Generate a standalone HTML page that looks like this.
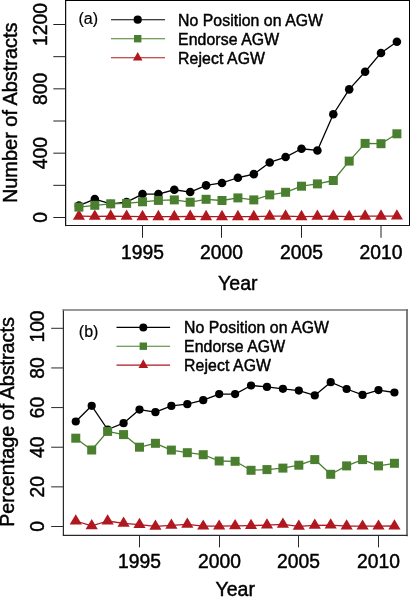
<!DOCTYPE html>
<html><head><meta charset="utf-8"><style>
html,body{margin:0;padding:0;background:#fff;}
body{width:410px;height:597px;overflow:hidden;font-family:"Liberation Sans", sans-serif;}
svg{display:block;will-change:transform;}
</style></head><body>
<svg width="410" height="597" viewBox="0 0 410 597" font-family='"Liberation Sans", sans-serif' fill="#000"><style>text{stroke:#000;stroke-width:0.45px;}</style>
<line x1="65.6" y1="0.5" x2="65.6" y2="225.5" stroke="#111" stroke-width="1.25" stroke-linecap="square"/>
<line x1="65.6" y1="0.5" x2="409.5" y2="0.5" stroke="#000" stroke-width="1.1" stroke-linecap="square"/>
<line x1="409.5" y1="0.5" x2="409.5" y2="225.5" stroke="#000" stroke-width="1.0" stroke-linecap="square"/>
<line x1="65.6" y1="225.5" x2="409.5" y2="225.5" stroke="#1a1a1a" stroke-width="1.1" stroke-linecap="square"/>
<line x1="142.5" y1="225.5" x2="142.5" y2="237.8" stroke="#222" stroke-width="1.0"/>
<text x="142.5" y="259.3" text-anchor="middle" font-size="19.3">1995</text>
<line x1="221.5" y1="225.5" x2="221.5" y2="237.8" stroke="#222" stroke-width="1.0"/>
<text x="221.5" y="259.3" text-anchor="middle" font-size="19.3">2000</text>
<line x1="301.5" y1="225.5" x2="301.5" y2="237.8" stroke="#222" stroke-width="1.0"/>
<text x="301.5" y="259.3" text-anchor="middle" font-size="19.3">2005</text>
<line x1="381.0" y1="225.5" x2="381.0" y2="237.8" stroke="#222" stroke-width="1.0"/>
<text x="381.0" y="259.3" text-anchor="middle" font-size="19.3">2010</text>
<line x1="53.3" y1="217.5" x2="65.6" y2="217.5" stroke="#222" stroke-width="1.0"/>
<text transform="translate(47.0,217.5) rotate(-90)" text-anchor="middle" font-size="19.3">0</text>
<line x1="53.3" y1="185.33" x2="65.6" y2="185.33" stroke="#222" stroke-width="1.0"/>
<line x1="53.3" y1="153.17" x2="65.6" y2="153.17" stroke="#222" stroke-width="1.0"/>
<text transform="translate(47.0,153.17) rotate(-90)" text-anchor="middle" font-size="19.3">400</text>
<line x1="53.3" y1="121.0" x2="65.6" y2="121.0" stroke="#222" stroke-width="1.0"/>
<line x1="53.3" y1="88.83" x2="65.6" y2="88.83" stroke="#222" stroke-width="1.0"/>
<text transform="translate(47.0,88.83) rotate(-90)" text-anchor="middle" font-size="19.3">800</text>
<line x1="53.3" y1="56.67" x2="65.6" y2="56.67" stroke="#222" stroke-width="1.0"/>
<line x1="53.3" y1="24.5" x2="65.6" y2="24.5" stroke="#222" stroke-width="1.0"/>
<text transform="translate(47.0,24.5) rotate(-90)" text-anchor="middle" font-size="19.3">1200</text>
<text x="237.8" y="289.6" text-anchor="middle" font-size="19.5">Year</text>
<text transform="translate(16.8,112.8) rotate(-90)" text-anchor="middle" font-size="19.95">Number of Abstracts</text>
<polyline points="78.90,205.65 94.80,199.05 110.70,203.95 126.60,202.05 142.50,194.05 158.40,194.05 174.30,189.75 190.20,192.05 206.10,185.35 222.00,182.95 237.90,177.75 253.80,174.15 269.70,162.45 285.60,157.05 301.50,148.75 317.40,150.45 333.30,114.25 349.20,89.35 365.10,71.75 381.00,52.95 396.90,41.75" fill="none" stroke="#000" stroke-width="1.3" stroke-linejoin="round"/>
<circle cx="78.90" cy="205.65" r="4.3" fill="#000"/>
<circle cx="94.80" cy="199.05" r="4.3" fill="#000"/>
<circle cx="110.70" cy="203.95" r="4.3" fill="#000"/>
<circle cx="126.60" cy="202.05" r="4.3" fill="#000"/>
<circle cx="142.50" cy="194.05" r="4.3" fill="#000"/>
<circle cx="158.40" cy="194.05" r="4.3" fill="#000"/>
<circle cx="174.30" cy="189.75" r="4.3" fill="#000"/>
<circle cx="190.20" cy="192.05" r="4.3" fill="#000"/>
<circle cx="206.10" cy="185.35" r="4.3" fill="#000"/>
<circle cx="222.00" cy="182.95" r="4.3" fill="#000"/>
<circle cx="237.90" cy="177.75" r="4.3" fill="#000"/>
<circle cx="253.80" cy="174.15" r="4.3" fill="#000"/>
<circle cx="269.70" cy="162.45" r="4.3" fill="#000"/>
<circle cx="285.60" cy="157.05" r="4.3" fill="#000"/>
<circle cx="301.50" cy="148.75" r="4.3" fill="#000"/>
<circle cx="317.40" cy="150.45" r="4.3" fill="#000"/>
<circle cx="333.30" cy="114.25" r="4.3" fill="#000"/>
<circle cx="349.20" cy="89.35" r="4.3" fill="#000"/>
<circle cx="365.10" cy="71.75" r="4.3" fill="#000"/>
<circle cx="381.00" cy="52.95" r="4.3" fill="#000"/>
<circle cx="396.90" cy="41.75" r="4.3" fill="#000"/>
<polyline points="78.90,216.20 94.80,216.40 110.70,216.20 126.60,216.40 142.50,216.70 158.40,216.70 174.30,216.70 190.20,216.50 206.10,216.70 222.00,216.70 237.90,216.70 253.80,216.70 269.70,216.20 285.60,216.20 301.50,216.70 317.40,216.40 333.30,216.20 349.20,216.70 365.10,216.20 381.00,216.20 396.90,216.10" fill="none" stroke="#b0171e" stroke-width="1.3" stroke-linejoin="round"/>
<polygon points="78.90,209.27 84.90,219.67 72.90,219.67" fill="#b0171e"/>
<polygon points="94.80,209.47 100.80,219.87 88.80,219.87" fill="#b0171e"/>
<polygon points="110.70,209.27 116.70,219.67 104.70,219.67" fill="#b0171e"/>
<polygon points="126.60,209.47 132.60,219.87 120.60,219.87" fill="#b0171e"/>
<polygon points="142.50,209.77 148.50,220.17 136.50,220.17" fill="#b0171e"/>
<polygon points="158.40,209.77 164.40,220.17 152.40,220.17" fill="#b0171e"/>
<polygon points="174.30,209.77 180.30,220.17 168.30,220.17" fill="#b0171e"/>
<polygon points="190.20,209.57 196.20,219.97 184.20,219.97" fill="#b0171e"/>
<polygon points="206.10,209.77 212.10,220.17 200.10,220.17" fill="#b0171e"/>
<polygon points="222.00,209.77 228.00,220.17 216.00,220.17" fill="#b0171e"/>
<polygon points="237.90,209.77 243.90,220.17 231.90,220.17" fill="#b0171e"/>
<polygon points="253.80,209.77 259.80,220.17 247.80,220.17" fill="#b0171e"/>
<polygon points="269.70,209.27 275.70,219.67 263.70,219.67" fill="#b0171e"/>
<polygon points="285.60,209.27 291.60,219.67 279.60,219.67" fill="#b0171e"/>
<polygon points="301.50,209.77 307.50,220.17 295.50,220.17" fill="#b0171e"/>
<polygon points="317.40,209.47 323.40,219.87 311.40,219.87" fill="#b0171e"/>
<polygon points="333.30,209.27 339.30,219.67 327.30,219.67" fill="#b0171e"/>
<polygon points="349.20,209.77 355.20,220.17 343.20,220.17" fill="#b0171e"/>
<polygon points="365.10,209.27 371.10,219.67 359.10,219.67" fill="#b0171e"/>
<polygon points="381.00,209.27 387.00,219.67 375.00,219.67" fill="#b0171e"/>
<polygon points="396.90,209.17 402.90,219.57 390.90,219.57" fill="#b0171e"/>
<polyline points="78.90,207.10 94.80,205.30 110.70,203.80 126.60,203.40 142.50,201.80 158.40,200.40 174.30,199.90 190.20,202.20 206.10,199.30 222.00,200.50 237.90,197.90 253.80,199.90 269.70,194.90 285.60,192.30 301.50,186.20 317.40,183.90 333.30,180.50 349.20,161.10 365.10,143.40 381.00,143.70 396.90,133.80" fill="none" stroke="#4a7f2f" stroke-width="1.3" stroke-linejoin="round"/>
<rect x="74.40" y="202.60" width="9.0" height="9.0" fill="#4a7f2f"/>
<rect x="90.30" y="200.80" width="9.0" height="9.0" fill="#4a7f2f"/>
<rect x="106.20" y="199.30" width="9.0" height="9.0" fill="#4a7f2f"/>
<rect x="122.10" y="198.90" width="9.0" height="9.0" fill="#4a7f2f"/>
<rect x="138.00" y="197.30" width="9.0" height="9.0" fill="#4a7f2f"/>
<rect x="153.90" y="195.90" width="9.0" height="9.0" fill="#4a7f2f"/>
<rect x="169.80" y="195.40" width="9.0" height="9.0" fill="#4a7f2f"/>
<rect x="185.70" y="197.70" width="9.0" height="9.0" fill="#4a7f2f"/>
<rect x="201.60" y="194.80" width="9.0" height="9.0" fill="#4a7f2f"/>
<rect x="217.50" y="196.00" width="9.0" height="9.0" fill="#4a7f2f"/>
<rect x="233.40" y="193.40" width="9.0" height="9.0" fill="#4a7f2f"/>
<rect x="249.30" y="195.40" width="9.0" height="9.0" fill="#4a7f2f"/>
<rect x="265.20" y="190.40" width="9.0" height="9.0" fill="#4a7f2f"/>
<rect x="281.10" y="187.80" width="9.0" height="9.0" fill="#4a7f2f"/>
<rect x="297.00" y="181.70" width="9.0" height="9.0" fill="#4a7f2f"/>
<rect x="312.90" y="179.40" width="9.0" height="9.0" fill="#4a7f2f"/>
<rect x="328.80" y="176.00" width="9.0" height="9.0" fill="#4a7f2f"/>
<rect x="344.70" y="156.60" width="9.0" height="9.0" fill="#4a7f2f"/>
<rect x="360.60" y="138.90" width="9.0" height="9.0" fill="#4a7f2f"/>
<rect x="376.50" y="139.20" width="9.0" height="9.0" fill="#4a7f2f"/>
<rect x="392.40" y="129.30" width="9.0" height="9.0" fill="#4a7f2f"/>
<text x="78.5" y="23.9" font-size="16" style="stroke-width:0.2px">(a)</text>
<line x1="111" y1="19.7" x2="165" y2="19.7" stroke="#000" stroke-width="1.1"/>
<circle cx="137.70" cy="19.70" r="4.1" fill="#000"/>
<text x="178.0" y="25.6" font-size="15.8" textLength="145.0" lengthAdjust="spacing">No Position on AGW</text>
<line x1="111" y1="38.7" x2="165" y2="38.7" stroke="#4a7f2f" stroke-width="1.1"/>
<rect x="134.00" y="35.00" width="7.4" height="7.4" fill="#4a7f2f"/>
<text x="178.0" y="44.6" font-size="15.8" textLength="101.1" lengthAdjust="spacing">Endorse AGW</text>
<line x1="111" y1="57.7" x2="165" y2="57.7" stroke="#b0171e" stroke-width="1.1"/>
<polygon points="137.70,51.97 142.50,60.57 132.90,60.57" fill="#b0171e"/>
<text x="178.0" y="63.5" font-size="15.8" textLength="87.0" lengthAdjust="spacing">Reject AGW</text>
<line x1="63.4" y1="310.0" x2="63.4" y2="535.4" stroke="#2a2a2a" stroke-width="1.2" stroke-linecap="square"/>
<line x1="63.4" y1="310.0" x2="407.0" y2="310.0" stroke="#777" stroke-width="1.6" stroke-linecap="square"/>
<line x1="407.0" y1="310.0" x2="407.0" y2="535.4" stroke="#666" stroke-width="1.7" stroke-linecap="square"/>
<line x1="63.4" y1="535.4" x2="407.0" y2="535.4" stroke="#2a2a2a" stroke-width="1.1" stroke-linecap="square"/>
<line x1="139.5" y1="535.2" x2="139.5" y2="547.4000000000001" stroke="#2a2a2a" stroke-width="1.0"/>
<text x="139.5" y="568.3" text-anchor="middle" font-size="19.3">1995</text>
<line x1="219.5" y1="535.2" x2="219.5" y2="547.4000000000001" stroke="#2a2a2a" stroke-width="1.0"/>
<text x="219.5" y="568.3" text-anchor="middle" font-size="19.3">2000</text>
<line x1="298.5" y1="535.2" x2="298.5" y2="547.4000000000001" stroke="#2a2a2a" stroke-width="1.0"/>
<text x="298.5" y="568.3" text-anchor="middle" font-size="19.3">2005</text>
<line x1="378.5" y1="535.2" x2="378.5" y2="547.4000000000001" stroke="#2a2a2a" stroke-width="1.0"/>
<text x="378.5" y="568.3" text-anchor="middle" font-size="19.3">2010</text>
<line x1="51.2" y1="526.5" x2="63.4" y2="526.5" stroke="#2a2a2a" stroke-width="1.0"/>
<text transform="translate(44.4,526.5) rotate(-90)" text-anchor="middle" font-size="19.3">0</text>
<line x1="51.2" y1="486.86" x2="63.4" y2="486.86" stroke="#2a2a2a" stroke-width="1.0"/>
<text transform="translate(44.4,486.86) rotate(-90)" text-anchor="middle" font-size="19.3">20</text>
<line x1="51.2" y1="447.22" x2="63.4" y2="447.22" stroke="#2a2a2a" stroke-width="1.0"/>
<text transform="translate(44.4,447.22) rotate(-90)" text-anchor="middle" font-size="19.3">40</text>
<line x1="51.2" y1="407.58" x2="63.4" y2="407.58" stroke="#2a2a2a" stroke-width="1.0"/>
<text transform="translate(44.4,407.58) rotate(-90)" text-anchor="middle" font-size="19.3">60</text>
<line x1="51.2" y1="367.94" x2="63.4" y2="367.94" stroke="#2a2a2a" stroke-width="1.0"/>
<text transform="translate(44.4,367.94) rotate(-90)" text-anchor="middle" font-size="19.3">80</text>
<line x1="51.2" y1="328.3" x2="63.4" y2="328.3" stroke="#2a2a2a" stroke-width="1.0"/>
<text transform="translate(44.4,326.5) rotate(-90)" text-anchor="middle" font-size="19.3">100</text>
<text x="235.2" y="596.0" text-anchor="middle" font-size="19.5">Year</text>
<text transform="translate(14.3,422.0) rotate(-90)" text-anchor="middle" font-size="19.75">Percentage of Abstracts</text>
<polyline points="75.77,421.50 91.70,405.80 107.63,429.50 123.57,423.20 139.50,409.60 155.43,412.20 171.37,405.90 187.30,404.20 203.23,400.20 219.17,394.10 235.10,394.10 251.03,385.50 266.97,386.90 282.90,388.80 298.83,390.60 314.77,395.40 330.70,382.20 346.63,389.00 362.57,394.90 378.50,390.10 394.43,392.50" fill="none" stroke="#000" stroke-width="1.3" stroke-linejoin="round"/>
<circle cx="75.77" cy="421.50" r="4.1" fill="#000"/>
<circle cx="91.70" cy="405.80" r="4.1" fill="#000"/>
<circle cx="107.63" cy="429.50" r="4.1" fill="#000"/>
<circle cx="123.57" cy="423.20" r="4.1" fill="#000"/>
<circle cx="139.50" cy="409.60" r="4.1" fill="#000"/>
<circle cx="155.43" cy="412.20" r="4.1" fill="#000"/>
<circle cx="171.37" cy="405.90" r="4.1" fill="#000"/>
<circle cx="187.30" cy="404.20" r="4.1" fill="#000"/>
<circle cx="203.23" cy="400.20" r="4.1" fill="#000"/>
<circle cx="219.17" cy="394.10" r="4.1" fill="#000"/>
<circle cx="235.10" cy="394.10" r="4.1" fill="#000"/>
<circle cx="251.03" cy="385.50" r="4.1" fill="#000"/>
<circle cx="266.97" cy="386.90" r="4.1" fill="#000"/>
<circle cx="282.90" cy="388.80" r="4.1" fill="#000"/>
<circle cx="298.83" cy="390.60" r="4.1" fill="#000"/>
<circle cx="314.77" cy="395.40" r="4.1" fill="#000"/>
<circle cx="330.70" cy="382.20" r="4.1" fill="#000"/>
<circle cx="346.63" cy="389.00" r="4.1" fill="#000"/>
<circle cx="362.57" cy="394.90" r="4.1" fill="#000"/>
<circle cx="378.50" cy="390.10" r="4.1" fill="#000"/>
<circle cx="394.43" cy="392.50" r="4.1" fill="#000"/>
<polyline points="75.77,521.00 91.70,525.80 107.63,521.00 123.57,523.30 139.50,524.60 155.43,526.30 171.37,525.30 187.30,524.40 203.23,526.20 219.17,526.20 235.10,525.80 251.03,525.60 266.97,525.10 282.90,524.40 298.83,526.30 314.77,525.30 330.70,525.10 346.63,526.10 362.57,526.20 378.50,526.20 394.43,526.00" fill="none" stroke="#b0171e" stroke-width="1.3" stroke-linejoin="round"/>
<polygon points="75.77,514.20 81.87,524.40 69.67,524.40" fill="#b0171e"/>
<polygon points="91.70,519.00 97.80,529.20 85.60,529.20" fill="#b0171e"/>
<polygon points="107.63,514.20 113.73,524.40 101.53,524.40" fill="#b0171e"/>
<polygon points="123.57,516.50 129.67,526.70 117.47,526.70" fill="#b0171e"/>
<polygon points="139.50,517.80 145.60,528.00 133.40,528.00" fill="#b0171e"/>
<polygon points="155.43,519.50 161.53,529.70 149.33,529.70" fill="#b0171e"/>
<polygon points="171.37,518.50 177.47,528.70 165.27,528.70" fill="#b0171e"/>
<polygon points="187.30,517.60 193.40,527.80 181.20,527.80" fill="#b0171e"/>
<polygon points="203.23,519.40 209.33,529.60 197.13,529.60" fill="#b0171e"/>
<polygon points="219.17,519.40 225.27,529.60 213.07,529.60" fill="#b0171e"/>
<polygon points="235.10,519.00 241.20,529.20 229.00,529.20" fill="#b0171e"/>
<polygon points="251.03,518.80 257.13,529.00 244.93,529.00" fill="#b0171e"/>
<polygon points="266.97,518.30 273.07,528.50 260.87,528.50" fill="#b0171e"/>
<polygon points="282.90,517.60 289.00,527.80 276.80,527.80" fill="#b0171e"/>
<polygon points="298.83,519.50 304.93,529.70 292.73,529.70" fill="#b0171e"/>
<polygon points="314.77,518.50 320.87,528.70 308.67,528.70" fill="#b0171e"/>
<polygon points="330.70,518.30 336.80,528.50 324.60,528.50" fill="#b0171e"/>
<polygon points="346.63,519.30 352.73,529.50 340.53,529.50" fill="#b0171e"/>
<polygon points="362.57,519.40 368.67,529.60 356.47,529.60" fill="#b0171e"/>
<polygon points="378.50,519.40 384.60,529.60 372.40,529.60" fill="#b0171e"/>
<polygon points="394.43,519.20 400.53,529.40 388.33,529.40" fill="#b0171e"/>
<polyline points="75.77,438.20 91.70,450.00 107.63,431.40 123.57,434.60 139.50,447.20 155.43,443.30 171.37,450.10 187.30,452.70 203.23,454.70 219.17,461.00 235.10,461.30 251.03,470.30 266.97,469.60 282.90,468.10 298.83,465.20 314.77,459.60 330.70,474.30 346.63,465.90 362.57,459.60 378.50,465.90 394.43,463.30" fill="none" stroke="#4a7f2f" stroke-width="1.3" stroke-linejoin="round"/>
<rect x="71.27" y="433.70" width="9.0" height="9.0" fill="#4a7f2f"/>
<rect x="87.20" y="445.50" width="9.0" height="9.0" fill="#4a7f2f"/>
<rect x="103.13" y="426.90" width="9.0" height="9.0" fill="#4a7f2f"/>
<rect x="119.07" y="430.10" width="9.0" height="9.0" fill="#4a7f2f"/>
<rect x="135.00" y="442.70" width="9.0" height="9.0" fill="#4a7f2f"/>
<rect x="150.93" y="438.80" width="9.0" height="9.0" fill="#4a7f2f"/>
<rect x="166.87" y="445.60" width="9.0" height="9.0" fill="#4a7f2f"/>
<rect x="182.80" y="448.20" width="9.0" height="9.0" fill="#4a7f2f"/>
<rect x="198.73" y="450.20" width="9.0" height="9.0" fill="#4a7f2f"/>
<rect x="214.67" y="456.50" width="9.0" height="9.0" fill="#4a7f2f"/>
<rect x="230.60" y="456.80" width="9.0" height="9.0" fill="#4a7f2f"/>
<rect x="246.53" y="465.80" width="9.0" height="9.0" fill="#4a7f2f"/>
<rect x="262.47" y="465.10" width="9.0" height="9.0" fill="#4a7f2f"/>
<rect x="278.40" y="463.60" width="9.0" height="9.0" fill="#4a7f2f"/>
<rect x="294.33" y="460.70" width="9.0" height="9.0" fill="#4a7f2f"/>
<rect x="310.27" y="455.10" width="9.0" height="9.0" fill="#4a7f2f"/>
<rect x="326.20" y="469.80" width="9.0" height="9.0" fill="#4a7f2f"/>
<rect x="342.13" y="461.40" width="9.0" height="9.0" fill="#4a7f2f"/>
<rect x="358.07" y="455.10" width="9.0" height="9.0" fill="#4a7f2f"/>
<rect x="374.00" y="461.40" width="9.0" height="9.0" fill="#4a7f2f"/>
<rect x="389.93" y="458.80" width="9.0" height="9.0" fill="#4a7f2f"/>
<text x="78.8" y="336.8" font-size="16" style="stroke-width:0.2px">(b)</text>
<line x1="116.5" y1="327.4" x2="170.1" y2="327.4" stroke="#000" stroke-width="1.1"/>
<circle cx="143.30" cy="327.40" r="4.0" fill="#000"/>
<text x="184.0" y="333.3" font-size="15.8" textLength="145.0" lengthAdjust="spacing">No Position on AGW</text>
<line x1="116.5" y1="346.2" x2="170.1" y2="346.2" stroke="#4a7f2f" stroke-width="1.1"/>
<rect x="139.60" y="342.50" width="7.4" height="7.4" fill="#4a7f2f"/>
<text x="184.0" y="351.8" font-size="15.8" textLength="101.1" lengthAdjust="spacing">Endorse AGW</text>
<line x1="116.5" y1="365.1" x2="170.1" y2="365.1" stroke="#b0171e" stroke-width="1.1"/>
<polygon points="143.30,359.37 148.10,367.97 138.50,367.97" fill="#b0171e"/>
<text x="184.0" y="370.6" font-size="15.8" textLength="87.0" lengthAdjust="spacing">Reject AGW</text>
</svg>
</body></html>
